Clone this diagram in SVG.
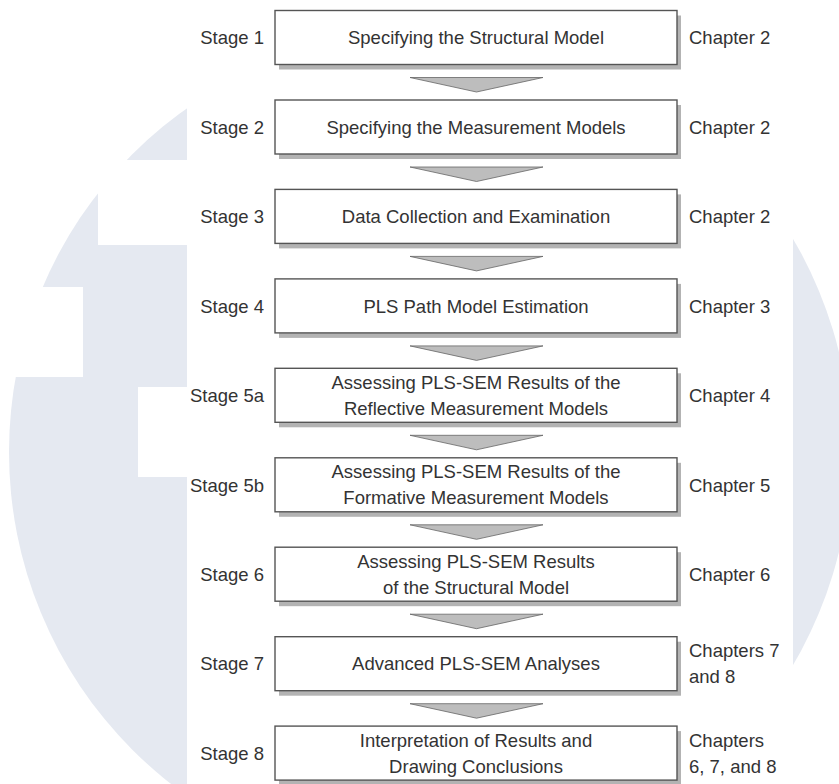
<svg xmlns="http://www.w3.org/2000/svg" width="839" height="784" viewBox="0 0 839 784">
  <style>
    .txt { font-family: "Liberation Sans", Arial, sans-serif; font-size: 18.5px; fill: #333333; }
    .stage { text-anchor: end; }
    .mid { text-anchor: middle; }
    .box { fill: #ffffff; stroke: #555555; stroke-width: 1.4; }
    .shadow { fill: #b3b3b3; }
    .arrow { fill: #bdbdbd; stroke: #666666; stroke-width: 0.8; stroke-linejoin: round; }
    .wm { fill: #e5e9f1; }
  </style>
  <defs>
    <g id="arrowHead">
      <polygon class="arrow" points="410,0 543,0 476.5,14.5"/>
    </g>
  </defs>

  <!-- background emblem -->
  <g id="emblem">
    <circle class="wm" cx="430" cy="452" r="421"/>
    <rect x="98" y="160" width="95" height="85" fill="#ffffff"/>
    <rect x="0" y="287" width="83" height="90" fill="#ffffff"/>
    <rect x="138" y="387" width="55" height="90" fill="#ffffff"/>
  </g>

  <!-- white panel behind the flowchart -->
  <rect x="187" y="0" width="606" height="784" fill="#ffffff"/>

  <!-- connectors -->
  <g id="connectors">
    <use href="#arrowHead" y="77.5"/>
    <use href="#arrowHead" y="167"/>
    <use href="#arrowHead" y="256.4"/>
    <use href="#arrowHead" y="345.9"/>
    <use href="#arrowHead" y="435.3"/>
    <use href="#arrowHead" y="524.8"/>
    <use href="#arrowHead" y="614.2"/>
    <use href="#arrowHead" y="703.7"/>
  </g>

  <g id="stage1">
    <rect class="shadow" x="279" y="15.5" width="402" height="54"/>
    <rect class="box" x="275" y="10.5" width="402" height="54"/>
    <text class="txt stage" x="264" y="44.2">Stage 1</text>
    <text class="txt mid" x="476" y="44.2">Specifying the Structural Model</text>
    <text class="txt" x="689" y="44.2">Chapter 2</text>
  </g>

  <g id="stage2">
    <rect class="shadow" x="279" y="105" width="402" height="54"/>
    <rect class="box" x="275" y="100" width="402" height="54"/>
    <text class="txt stage" x="264" y="133.7">Stage 2</text>
    <text class="txt mid" x="476" y="133.7">Specifying the Measurement Models</text>
    <text class="txt" x="689" y="133.7">Chapter 2</text>
  </g>

  <g id="stage3">
    <rect class="shadow" x="279" y="194.4" width="402" height="54"/>
    <rect class="box" x="275" y="189.4" width="402" height="54"/>
    <text class="txt stage" x="264" y="223.1">Stage 3</text>
    <text class="txt mid" x="476" y="223.1">Data Collection and Examination</text>
    <text class="txt" x="689" y="223.1">Chapter 2</text>
  </g>

  <g id="stage4">
    <rect class="shadow" x="279" y="283.9" width="402" height="54"/>
    <rect class="box" x="275" y="278.9" width="402" height="54"/>
    <text class="txt stage" x="264" y="312.6">Stage 4</text>
    <text class="txt mid" x="476" y="312.6">PLS Path Model Estimation</text>
    <text class="txt" x="689" y="312.6">Chapter 3</text>
  </g>

  <g id="stage5a">
    <rect class="shadow" x="279" y="373.3" width="402" height="54"/>
    <rect class="box" x="275" y="368.3" width="402" height="54"/>
    <text class="txt stage" x="264" y="402">Stage 5a</text>
    <text class="txt mid" x="476" y="388.8">Assessing PLS-SEM Results of the</text>
    <text class="txt mid" x="476" y="414.8">Reflective Measurement Models</text>
    <text class="txt" x="689" y="402">Chapter 4</text>
  </g>

  <g id="stage5b">
    <rect class="shadow" x="279" y="462.8" width="402" height="54"/>
    <rect class="box" x="275" y="457.8" width="402" height="54"/>
    <text class="txt stage" x="264" y="491.5">Stage 5b</text>
    <text class="txt mid" x="476" y="478.3">Assessing PLS-SEM Results of the</text>
    <text class="txt mid" x="476" y="504.3">Formative Measurement Models</text>
    <text class="txt" x="689" y="491.5">Chapter 5</text>
  </g>

  <g id="stage6">
    <rect class="shadow" x="279" y="552.2" width="402" height="54"/>
    <rect class="box" x="275" y="547.2" width="402" height="54"/>
    <text class="txt stage" x="264" y="580.9">Stage 6</text>
    <text class="txt mid" x="476" y="567.7">Assessing PLS-SEM Results</text>
    <text class="txt mid" x="476" y="593.7">of the Structural Model</text>
    <text class="txt" x="689" y="580.9">Chapter 6</text>
  </g>

  <g id="stage7">
    <rect class="shadow" x="279" y="641.7" width="402" height="54"/>
    <rect class="box" x="275" y="636.7" width="402" height="54"/>
    <text class="txt stage" x="264" y="670.4">Stage 7</text>
    <text class="txt mid" x="476" y="670.4">Advanced PLS-SEM Analyses</text>
    <text class="txt" x="689" y="657.2">Chapters 7</text>
    <text class="txt" x="689" y="683.2">and 8</text>
  </g>

  <g id="stage8">
    <rect class="shadow" x="279" y="731.1" width="402" height="54"/>
    <rect class="box" x="275" y="726.1" width="402" height="54"/>
    <text class="txt stage" x="264" y="759.8">Stage 8</text>
    <text class="txt mid" x="476" y="746.6">Interpretation of Results and</text>
    <text class="txt mid" x="476" y="772.6">Drawing Conclusions</text>
    <text class="txt" x="689" y="746.6">Chapters</text>
    <text class="txt" x="689" y="772.6">6, 7, and 8</text>
  </g>
</svg>
